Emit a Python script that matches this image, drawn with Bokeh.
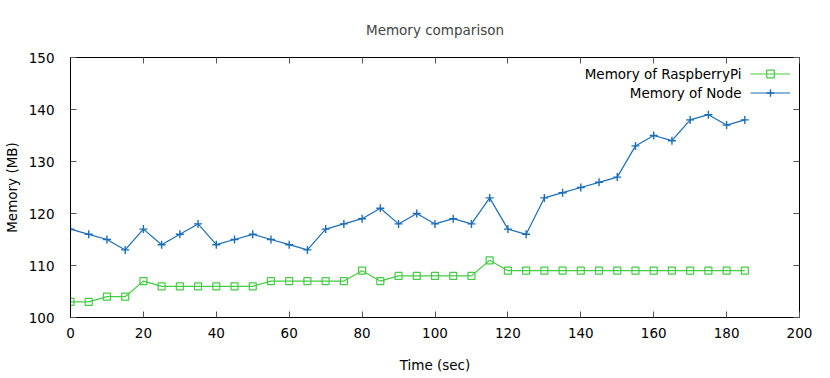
from bokeh.plotting import figure
from bokeh.models import (ColumnDataSource, Range1d, LinearAxis, FixedTicker,
                          Legend, LegendItem, Label, CustomJSTickFormatter)
from bokeh.embed import file_html
from bokeh.resources import INLINE

time_sec = [0, 5, 10, 15, 20, 25, 30, 35, 40, 45, 50, 55, 60, 65, 70, 75, 80, 85,
            90, 95, 100, 105, 110, 115, 120, 125, 130, 135, 140, 145, 150, 155,
            160, 165, 170, 175, 180, 185]
mem_pi = [103, 103, 104, 104, 107, 106, 106, 106, 106, 106, 106, 107, 107, 107,
          107, 107, 109, 107, 108, 108, 108, 108, 108, 111, 109, 109, 109, 109,
          109, 109, 109, 109, 109, 109, 109, 109, 109, 109]
mem_node = [117, 116, 115, 113, 117, 114, 116, 118, 114, 115, 116, 115, 114, 113,
            117, 118, 119, 121, 118, 120, 118, 119, 118, 123, 117, 116, 123, 124,
            125, 126, 127, 133, 135, 134, 138, 139, 137, 138]
x_ticks = [0, 20, 40, 60, 80, 100, 120, 140, 160, 180, 200]
y_ticks = [100, 110, 120, 130, 140, 150]
series_names = ["Memory of RaspberryPi", "Memory of Node"]

FONT = "DejaVu Sans"
FS = "13.5px"
GREEN = "#44cc44"
BLUE = "#1b6db8"

src = ColumnDataSource(dict(t=time_sec, pi=mem_pi, node=mem_node))

p = figure(width=830, height=378, output_backend="svg", toolbar_location=None,
           x_range=Range1d(0, 200), y_range=Range1d(100, 150),
           min_border_left=69, min_border_right=31, min_border_top=57,
           min_border_bottom=61, x_axis_label="Time (sec)",
           y_axis_label="Memory (MB)")
p.title.text = "Memory comparison"
p.title.align = "center"
p.title.text_font = FONT
p.title.text_font_size = FS
p.title.text_font_style = "normal"
p.title.offset = 0
p.title.standoff = 39
p.outline_line_color = "black"
p.outline_line_width = 1
p.xgrid.visible = False
p.ygrid.visible = False
p.background_fill_color = "white"
p.border_fill_color = "white"

for ax, ticks in ((p.xaxis[0], x_ticks), (p.yaxis[0], y_ticks)):
    ax.ticker = FixedTicker(ticks=ticks)
    ax.major_tick_in = 6
    ax.major_tick_out = 0
    ax.minor_tick_in = 0
    ax.minor_tick_out = 0
    ax.axis_line_color = "black"
    ax.major_tick_line_color = "#555555"
    ax.major_label_text_font = FONT
    ax.major_label_text_font_size = FS
    ax.major_label_text_color = "black"
    ax.axis_label_text_font = FONT
    ax.axis_label_text_font_size = FS
    ax.axis_label_text_font_style = "normal"
    ax.axis_label_text_color = "black"
p.xaxis[0].major_label_standoff = 10
p.xaxis[0].axis_label_standoff = 16
p.yaxis[0].major_label_standoff = 16
p.yaxis[0].axis_label_standoff = 6

# mirrored ticks on top and right (no labels)
blank = CustomJSTickFormatter(code="return ''")
top = LinearAxis(ticker=FixedTicker(ticks=x_ticks), formatter=blank,
                 major_tick_in=6, major_tick_out=0, minor_tick_in=0, minor_tick_out=0,
                 axis_line_color=None, major_tick_line_color="#555555",
                 major_label_standoff=0)
right = LinearAxis(ticker=FixedTicker(ticks=y_ticks), formatter=blank,
                   major_tick_in=6, major_tick_out=0, minor_tick_in=0, minor_tick_out=0,
                   axis_line_color=None, major_tick_line_color="#555555",
                   major_label_standoff=0)
p.add_layout(top, "above")
p.add_layout(right, "right")

l1 = p.line("t", "pi", source=src, line_color=GREEN, line_width=1.2)
m1 = p.scatter("t", "pi", source=src, marker="square", size=7, fill_color=None,
               line_color=GREEN, line_width=1.2)
l2 = p.line("t", "node", source=src, line_color=BLUE, line_width=1.2)
m2 = p.scatter("t", "node", source=src, marker="cross", size=8,
               line_color=BLUE, line_width=1.4)

legend = Legend(items=[LegendItem(label="", renderers=[l1, m1]),
                       LegendItem(label="", renderers=[l2, m2])],
                location=(680, 215), orientation="vertical",
                glyph_width=40, glyph_height=19, label_width=0, label_height=19,
                label_standoff=0, spacing=0, padding=0, margin=0,
                border_line_color=None, background_fill_alpha=0)
p.add_layout(legend, "center")

for i, name in enumerate(series_names):
    p.add_layout(Label(x=671, y=244 - 19 * i,
                       x_units="screen", y_units="screen", text=name,
                       text_align="right", text_baseline="middle",
                       text_font=FONT, text_font_size=FS, text_color="black"))

open("out.html", "w").write(file_html(p, INLINE))
